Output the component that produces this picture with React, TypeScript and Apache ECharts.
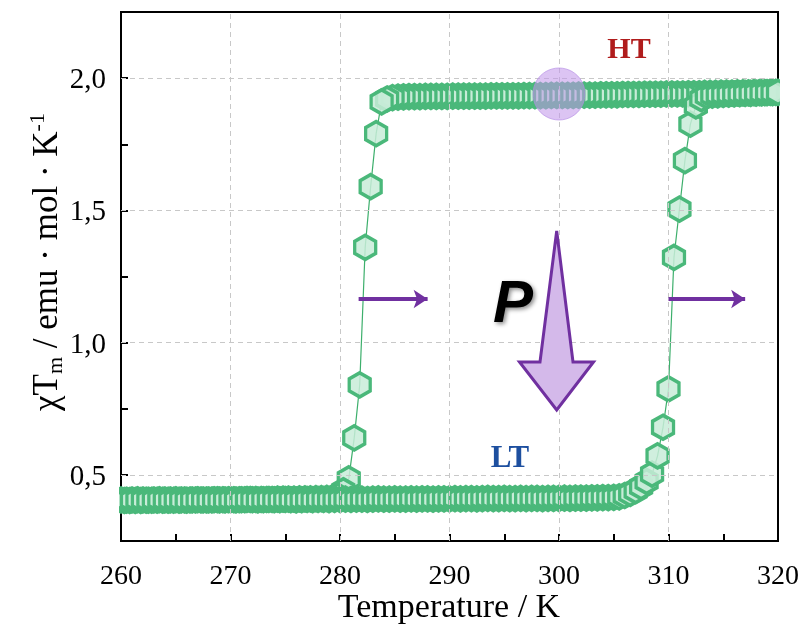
import React, { useEffect, useRef } from "react";
import * as echarts from "echarts";

// ---- Data ----
const xGridValues = [270, 280, 290, 300, 310];
const yGridValues = [0.5, 1.0, 1.5, 2.0];
const yTickLabels: Record<string, string> = { "0.5": "0,5", "1": "1,0", "1.5": "1,5", "2": "2,0" };
const xTitle = "Temperature / K";

// Heating branch (LT -> HT)
const heatT = [
  260, 260.5, 261, 261.5, 262, 262.5, 263, 263.5, 264, 264.5, 265, 265.5, 266, 266.5, 267, 267.5, 268, 268.5, 269, 269.5,
  270, 270.5, 271, 271.5, 272, 272.5, 273, 273.5, 274, 274.5, 275, 275.5, 276, 276.5, 277, 277.5, 278, 278.5, 279, 279.5,
  280, 280.5, 281, 281.5, 282, 282.5, 283, 283.5, 284, 284.5, 285, 285.5, 286, 286.5, 287, 287.5, 288, 288.5, 289, 289.5,
  290, 290.5, 291, 291.5, 292, 292.5, 293, 293.5, 294, 294.5, 295, 295.5, 296, 296.5, 297, 297.5, 298, 298.5, 299, 299.5,
  300, 300.5, 301, 301.5, 302, 302.5, 303, 303.5, 304, 304.5, 305,
  305.5, 306, 306.5, 307, 307.5, 308, 308.5, 309, 309.5, 310, 310.5, 311, 311.5, 312, 312.5, 313, 313.5,
  314, 314.5, 315, 315.5, 316, 316.5, 317, 317.5, 318, 318.5, 319, 319.5, 320,
];
const heatChi = [
  0.405, 0.404, 0.405, 0.406, 0.405, 0.404, 0.405, 0.406, 0.405, 0.405, 0.406, 0.405, 0.404, 0.405, 0.406, 0.405, 0.405, 0.406, 0.405, 0.405,
  0.406, 0.405, 0.406, 0.407, 0.406, 0.405, 0.406, 0.407, 0.406, 0.406, 0.407, 0.406, 0.405, 0.406, 0.407, 0.406, 0.407, 0.407, 0.406, 0.407,
  0.407, 0.408, 0.407, 0.408, 0.408, 0.407, 0.408, 0.409, 0.408, 0.408, 0.409, 0.408, 0.408, 0.409, 0.408, 0.409, 0.409, 0.408, 0.409, 0.409,
  0.409, 0.41, 0.409, 0.41, 0.41, 0.409, 0.41, 0.411, 0.41, 0.41, 0.411, 0.41, 0.41, 0.411, 0.41, 0.411, 0.411, 0.41, 0.411, 0.411,
  0.411, 0.412, 0.411, 0.412, 0.412, 0.412, 0.413, 0.413, 0.414, 0.414, 0.415,
  0.417, 0.422, 0.43, 0.44, 0.455, 0.475, 0.503, 0.572, 0.68, 0.825, 1.322, 1.505, 1.688, 1.826, 1.895, 1.922, 1.933,
  1.936, 1.937, 1.938, 1.939, 1.94, 1.941, 1.942, 1.942, 1.943, 1.944, 1.945, 1.945, 1.946,
];

// Cooling branch (HT -> LT)
const coolT = [
  319.8, 319.3, 318.8, 318.3, 317.8, 317.3, 316.8, 316.3, 315.8, 315.3, 314.8, 314.3, 313.8, 313.3, 312.8, 312.3, 311.8, 311.3, 310.8, 310.3,
  309.8, 309.3, 308.8, 308.3, 307.8, 307.3, 306.8, 306.3, 305.8, 305.3, 304.8, 304.3, 303.8, 303.3, 302.8, 302.3, 301.8, 301.3, 300.8, 300.3,
  299.8, 299.3, 298.8, 298.3, 297.8, 297.3, 296.8, 296.3, 295.8, 295.3, 294.8, 294.3, 293.8, 293.3, 292.8, 292.3, 291.8, 291.3, 290.8, 290.3,
  289.8, 289.3, 288.8, 288.3, 287.8, 287.3, 286.8, 286.3, 285.8, 285.3, 284.8,
  284.3, 283.8, 283.3, 282.8, 282.3, 281.8, 281.3, 280.8, 280.3, 279.8, 279.3,
  278.8, 278.3, 277.8, 277.3, 276.8, 276.3, 275.8, 275.3, 274.8, 274.3, 273.8, 273.3, 272.8, 272.3, 271.8, 271.3, 270.8, 270.3, 269.8, 269.3,
  268.8, 268.3, 267.8, 267.3, 266.8, 266.3, 265.8, 265.3, 264.8, 264.3, 263.8, 263.3, 262.8, 262.3, 261.8, 261.3, 260.8, 260.3,
];
const coolChi = [
  1.946, 1.946, 1.945, 1.945, 1.945, 1.944, 1.944, 1.944, 1.943, 1.943, 1.943, 1.942, 1.942, 1.942, 1.941, 1.941, 1.941, 1.94, 1.94, 1.94,
  1.94, 1.939, 1.939, 1.939, 1.939, 1.938, 1.938, 1.938, 1.938, 1.937, 1.937, 1.937, 1.937, 1.936, 1.936, 1.936, 1.936, 1.935, 1.935, 1.935,
  1.935, 1.935, 1.934, 1.934, 1.934, 1.934, 1.934, 1.933, 1.933, 1.933, 1.933, 1.933, 1.933, 1.932, 1.932, 1.932, 1.932, 1.932, 1.932, 1.932,
  1.931, 1.931, 1.931, 1.931, 1.931, 1.93, 1.93, 1.93, 1.929, 1.928, 1.926,
  1.921, 1.91, 1.79, 1.59, 1.36, 0.84, 0.64, 0.485, 0.44, 0.42, 0.413,
  0.411, 0.41, 0.41, 0.409, 0.409, 0.409, 0.408, 0.408, 0.408, 0.408, 0.407, 0.407, 0.407, 0.407, 0.407, 0.406, 0.406, 0.406, 0.406, 0.406,
  0.406, 0.405, 0.405, 0.405, 0.405, 0.405, 0.405, 0.404, 0.404, 0.404, 0.404, 0.404, 0.404, 0.404, 0.403, 0.403, 0.403, 0.403,
];

// Annotation anchors (data space)
const highlightPoint = [300, 1.94];
const arrowLeft = [[281.7, 1.165], [288.0, 1.165]];
const arrowRight = [[310.0, 1.165], [317.0, 1.165]];

const SERIF = '"Liberation Serif", "Times New Roman", Times, serif';
const HEX = "path://M0,-1 L0.866,-0.5 L0.866,0.5 L0,1 L-0.866,0.5 L-0.866,-0.5 Z";

export default function App() {
  const ref = useRef<HTMLDivElement>(null);
  useEffect(() => {
    if (!ref.current) return;
    const chart = echarts.init(ref.current, undefined, { renderer: "svg" });
    const heatData = heatT.map((t, i) => [t, heatChi[i]]);
    const coolData = coolT.map((t, i) => [t, coolChi[i]]);
    const branchStyle = {
      type: "line",
      symbol: HEX,
      symbolSize: [21, 24],
      showSymbol: true,
      showAllSymbol: true,
      lineStyle: { color: "#3daf6c", width: 1.2 },
      itemStyle: { color: "rgba(200,236,216,0.85)", borderColor: "#4ab87a", borderWidth: 3.5 },
      z: 3,
      clip: true,
    };
    chart.setOption({
      animation: false,
      grid: {
        left: 121, right: 26, top: 12, bottom: 84,
        outerBoundsMode: "none", containLabel: false,
        show: true, borderColor: "#000", borderWidth: 2, backgroundColor: "transparent",
      },
      xAxis: {
        type: "value", min: 260, max: 320, interval: 5,
        axisLine: { show: true, onZero: false, lineStyle: { color: "#000", width: 2 } },
        axisTick: { show: true, inside: true, length: 7, lineStyle: { color: "#000", width: 2 } },
        axisLabel: {
          showMinLabel: true, showMaxLabel: true,
          formatter: (v: number) => (Math.abs(v % 10) < 1e-6 ? String(v) : ""),
          fontFamily: SERIF, fontSize: 28, color: "#000", margin: 19,
        },
        splitLine: { show: false },
      },
      yAxis: {
        type: "value", min: 0.25, max: 2.25, interval: 0.25,
        axisLine: { show: true, onZero: false, lineStyle: { color: "#000", width: 2 } },
        axisTick: { show: true, inside: true, length: 7, lineStyle: { color: "#000", width: 2 } },
        axisLabel: {
          showMinLabel: true, showMaxLabel: true,
          formatter: (v: number) => yTickLabels[String(+v.toFixed(2))] ?? "",
          fontFamily: SERIF, fontSize: 29, color: "#000", margin: 15,
        },
        splitLine: { show: false },
      },
      series: [
        {
          type: "line", data: [], z: 1, silent: true,
          markLine: {
            silent: true, symbol: "none", animation: false,
            label: { show: false },
            lineStyle: { color: "#c8c8c8", type: [5, 4], width: 1 },
            data: [
              ...xGridValues.map((x) => ({ xAxis: x })),
              ...yGridValues.map((y) => ({ yAxis: y })),
            ],
          },
        },
        { ...branchStyle, name: "cooling", data: coolData },
        { ...branchStyle, name: "heating", data: heatData },
        {
          type: "scatter", data: [highlightPoint], symbol: "circle", symbolSize: 52, z: 5, silent: true,
          itemStyle: { color: "rgba(192,150,234,0.7)", borderColor: "rgba(180,140,228,0.8)", borderWidth: 1 },
        },
        {
          type: "line", data: [], z: 6, silent: true,
          markLine: {
            silent: true, animation: false, symbol: ["none", "arrow"], symbolSize: [14, 14],
            label: { show: false },
            lineStyle: { color: "#7030a0", type: "solid", width: 4 },
            data: [
              [{ coord: arrowLeft[0] }, { coord: arrowLeft[1] }],
              [{ coord: arrowRight[0] }, { coord: arrowRight[1] }],
            ],
          },
        },
      ],
      graphic: [
        // clip marker overflow outside the plot frame
        { type: "rect", z: 8, shape: { x: 90, y: 487, width: 29, height: 30 }, style: { fill: "#fff" } },
        { type: "rect", z: 8, shape: { x: 780, y: 78, width: 24, height: 34 }, style: { fill: "#fff" } },
        {
          type: "text", x: 449, y: 605, z: 10,
          style: { text: xTitle, fontFamily: SERIF, fontSize: 34, fill: "#000", align: "center", verticalAlign: "middle" },
        },
        {
          type: "text", x: 45, y: 262, rotation: Math.PI / 2, z: 10,
          style: {
            text: "{a|χT}{sub|m}{a| / emu · mol · K}{sup|-1}",
            align: "center", verticalAlign: "middle",
            rich: {
              a: { fontFamily: SERIF, fontSize: 35, fill: "#000", lineHeight: 40, verticalAlign: "middle" },
              sub: { fontFamily: SERIF, fontSize: 22, fill: "#000", lineHeight: 22, verticalAlign: "bottom" },
              sup: { fontFamily: SERIF, fontSize: 22, fill: "#000", lineHeight: 22, verticalAlign: "top" },
            },
          },
        },
        {
          type: "text", x: 629, y: 47, z: 10,
          style: { text: "HT", fontFamily: SERIF, fontWeight: "bold", fontSize: 30, fill: "#b01c1c", align: "center", verticalAlign: "middle" },
        },
        {
          type: "text", x: 510, y: 456, z: 10,
          style: { text: "LT", fontFamily: SERIF, fontWeight: "bold", fontSize: 31, fill: "#1d4f9f", align: "center", verticalAlign: "middle" },
        },
        {
          type: "text", x: 513, y: 301, z: 10,
          style: {
            text: "P", fontFamily: '"Liberation Sans", Arial, sans-serif', fontWeight: "bold", fontStyle: "italic",
            fontSize: 60, fill: "#000", align: "center", verticalAlign: "middle",
            textShadowColor: "rgba(0,0,0,0.45)", textShadowBlur: 4, textShadowOffsetX: 2, textShadowOffsetY: 2,
          },
        },
        {
          type: "polygon", z: 10,
          shape: {
            points: [
              [556.7, 231], [573, 362], [593.5, 362], [556.7, 410], [519.5, 362], [540, 362],
            ],
          },
          style: { fill: "#d4b9ea", stroke: "#7030a0", lineWidth: 3, lineJoin: "miter" },
        },
      ],
    });
    return () => chart.dispose();
  }, []);
  return <div ref={ref} style={{ position: "fixed", left: 0, top: 0, width: 804, height: 625 }} />;
}
